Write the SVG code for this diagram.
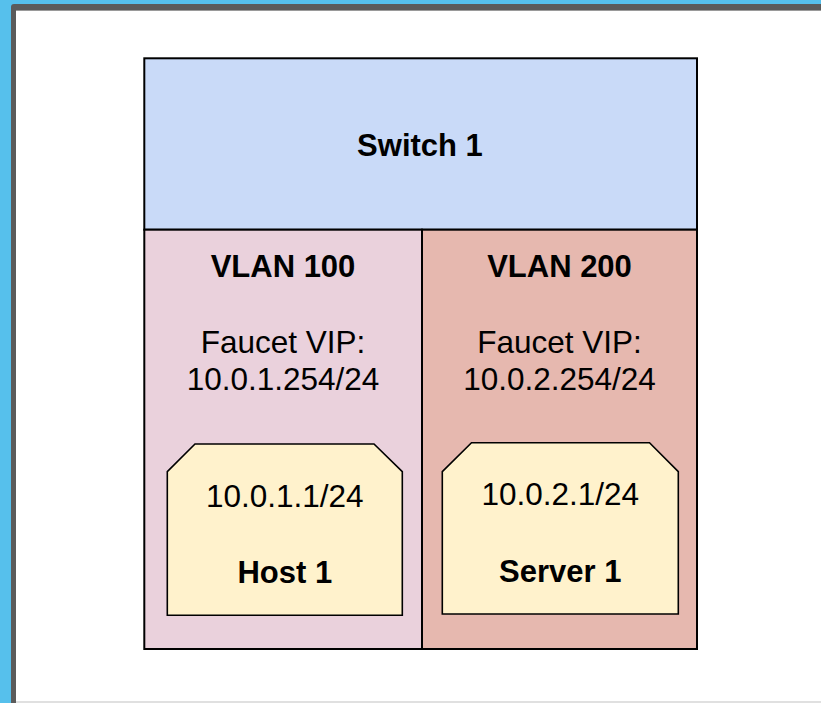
<svg xmlns="http://www.w3.org/2000/svg" width="821" height="703" viewBox="0 0 821 703">
<style>
  text { font-family: "Liberation Sans", Arial, sans-serif; font-size: 31.5px; fill: #000; text-anchor: middle; }
  .b { font-weight: bold; font-size: 31px; }
  .box { stroke: #000; stroke-width: 2; }
  .host { fill: #fff2cc; stroke: #000; stroke-width: 1.6; }
</style>
<rect x="0" y="0" width="821" height="703" fill="#56c0ec"/>
<rect x="11" y="4" width="820" height="710" rx="3" fill="#5b5b5b"/>
<rect x="16" y="10" width="805" height="691" fill="#ffffff"/>
<line x1="16" y1="10.5" x2="821" y2="10.5" stroke="#9a9a9a" stroke-width="1"/>
<rect x="16" y="701" width="805" height="2" fill="#e0e0e0"/>
<g id="switch1">
  <rect class="box" x="144.3" y="58.3" width="552.7" height="171.4" fill="#c9daf8"/>
  <text class="b" x="420" y="156">Switch 1</text>
</g>
<g id="vlan100">
  <rect class="box" x="144.3" y="229.7" width="277.7" height="419.3" fill="#ead1dc"/>
  <text class="b" x="283" y="277">VLAN 100</text>
  <text x="283" y="353">Faucet VIP:</text>
  <text x="283" y="390">10.0.1.254/24</text>
</g>
<g id="vlan200">
  <rect class="box" x="422" y="229.7" width="275" height="419.3" fill="#e6b8af"/>
  <text class="b" x="559.5" y="277">VLAN 200</text>
  <text x="559.5" y="353">Faucet VIP:</text>
  <text x="559.5" y="390">10.0.2.254/24</text>
</g>
<g id="host1">
  <path class="host" d="M195,444 L374,444 L402.3,471.7 L402.3,615.3 L167.3,615.3 L167.3,471.7 Z"/>
  <text x="284.8" y="506.5">10.0.1.1/24</text>
  <text class="b" x="284.8" y="583.3">Host 1</text>
</g>
<g id="server1">
  <path class="host" d="M471.5,442.7 L649.5,442.7 L678.3,471.7 L678.3,614 L442.3,614 L442.3,471.7 Z"/>
  <text x="560.3" y="505">10.0.2.1/24</text>
  <text class="b" x="560.3" y="581.7">Server 1</text>
</g>
<g id="connectors"></g>
</svg>
